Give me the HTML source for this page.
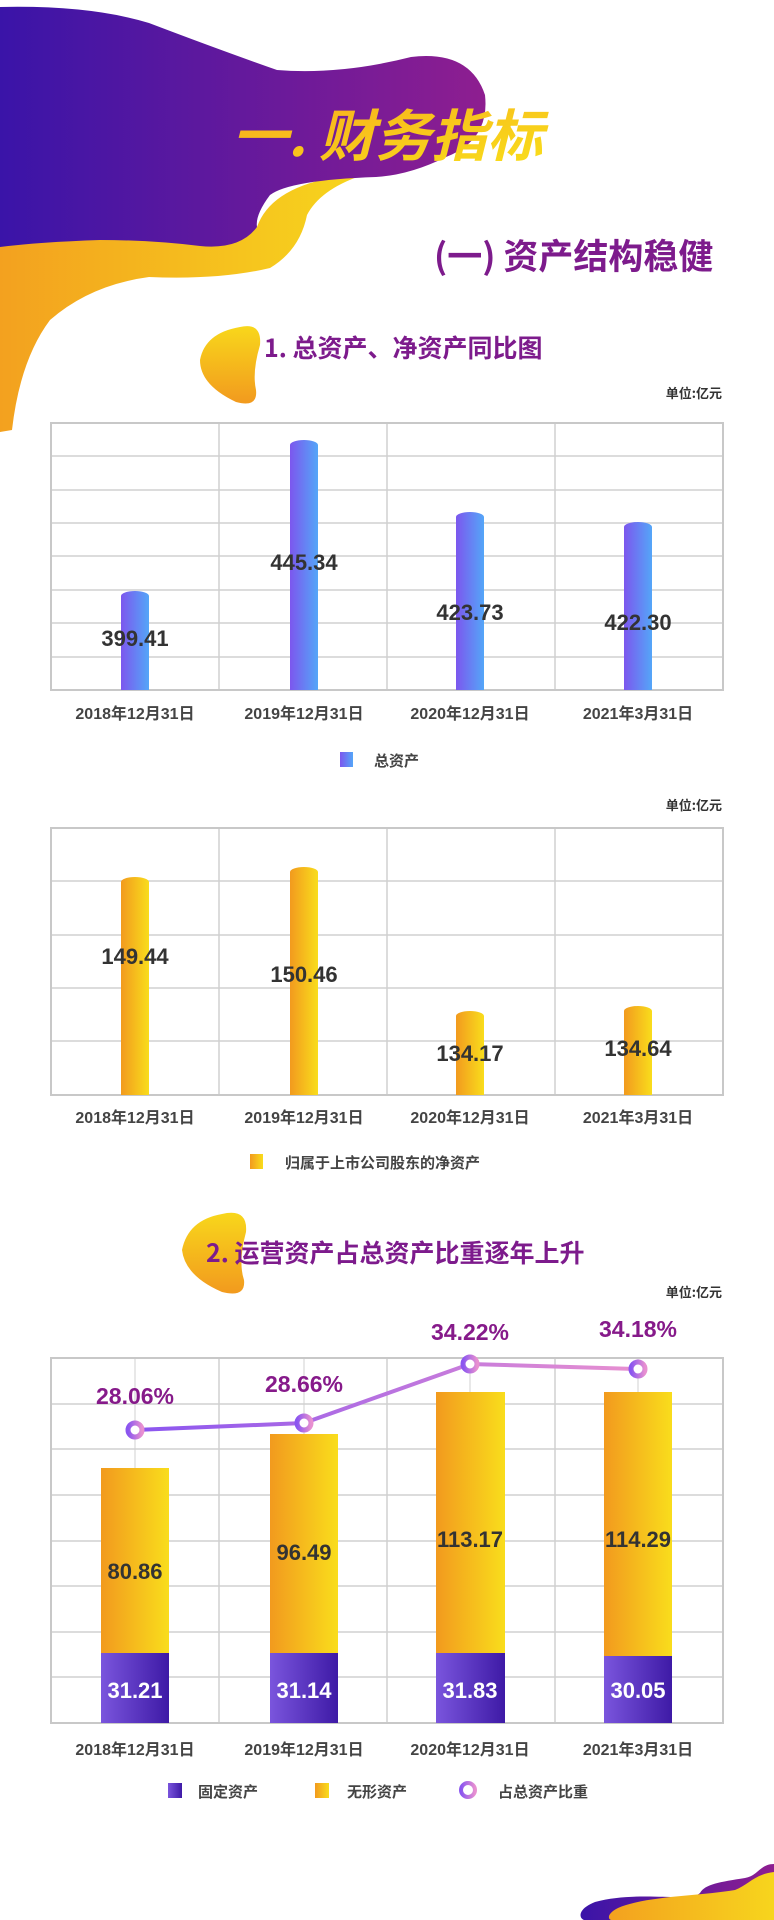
<!DOCTYPE html>
<html><head><meta charset="utf-8"><style>
html,body{margin:0;padding:0;background:#fff;}
svg{display:block;}
text{font-family:"Liberation Sans","Noto Sans CJK SC",sans-serif;}
.cj{font-family:"Noto Sans CJK SC","WenQuanYi Zen Hei",sans-serif;font-weight:bold;}
.num{font-family:"Liberation Sans Narrow","Liberation Sans",sans-serif;font-weight:bold;}
</style></head><body>
<svg width="774" height="1920" viewBox="0 0 774 1920" xmlns="http://www.w3.org/2000/svg">
<defs>
<linearGradient id="gp" x1="0" y1="0" x2="1" y2="0"><stop offset="0" stop-color="#3a14a8"/><stop offset="1" stop-color="#8e1e90"/></linearGradient>
<linearGradient id="gy" x1="0" y1="0" x2="1" y2="0"><stop offset="0" stop-color="#f3a11f"/><stop offset="1" stop-color="#f7d51d"/></linearGradient>
<linearGradient id="gyv" x1="0" y1="1" x2="0" y2="0"><stop offset="0" stop-color="#f29a1e"/><stop offset="1" stop-color="#f8d71b"/></linearGradient>
<linearGradient id="gt" x1="0" y1="0" x2="1" y2="1"><stop offset="0" stop-color="#f7a81e"/><stop offset="1" stop-color="#f9e11a"/></linearGradient>
<linearGradient id="gb" x1="0" y1="0" x2="1" y2="0"><stop offset="0" stop-color="#7c57ee"/><stop offset="1" stop-color="#54a6f8"/></linearGradient>
<linearGradient id="go" x1="0" y1="0" x2="1" y2="0"><stop offset="0" stop-color="#f29a1e"/><stop offset="1" stop-color="#f9dd1c"/></linearGradient>
<linearGradient id="gpu" x1="0" y1="0" x2="1" y2="0"><stop offset="0" stop-color="#7a55dd"/><stop offset="1" stop-color="#3e1aa6"/></linearGradient>
<linearGradient id="gl" x1="0" y1="0" x2="1" y2="0"><stop offset="0" stop-color="#8a55f0"/><stop offset="1" stop-color="#e890d0"/></linearGradient>
</defs>

<!-- top blobs -->
<path d="M0 240 L149 240 Q230 250 257 227 Q270 190 330 178 L360 176 Q320 190 307 215 Q300 250 270 268 Q220 280 149 277 Q90 285 50 320 Q20 360 12 430 L0 432 Z" fill="url(#gy)"/>
<path d="M0 7 Q90 5 149 23 Q220 50 277 70 Q340 75 411 57 Q470 50 485 95 Q490 140 446 157 Q410 175 376 177 Q290 180 270 195 Q255 215 257 227 Q240 250 200 246 Q150 240 100 240 Q40 242 0 247 Z" fill="url(#gp)"/>
<text x="232" y="156" font-size="56" font-weight="bold" font-style="italic" fill="url(#gt)" class="cj">一. 财务指标</text>
<text x="434" y="269" font-size="35" fill="#7d1b8c" class="cj">(一) 资产结构稳健</text>

<!-- section 1 title -->
<path d="M240 327 Q262 322 260 345 Q252 372 256 390 Q258 408 236 402 Q200 385 200 360 Q205 333 240 327 Z" fill="url(#gyv)"/>
<text x="264" y="357" font-size="25" fill="#7d1b8c" class="cj">1. 总资产、净资产同比图</text>
<text x="722" y="398" font-size="13" fill="#333" class="cj" text-anchor="end">单位:亿元</text>

<!-- chart 1 -->
<g stroke="#d0d0d0" stroke-width="1.5" fill="none">
<path d="M51 456H723M51 490H723M51 523H723M51 556H723M51 590H723M51 623H723M51 657H723"/>
<path d="M219 423V690M387 423V690M555 423V690"/>
<rect x="51" y="423" width="672" height="267" stroke="#c8c8c8" stroke-width="2"/>
</g>
<g fill="url(#gb)">
<path d="M121 596 A14 5 0 0 1 149 596 V690 H121 Z"/>
<path d="M290 445 A14 5 0 0 1 318 445 V690 H290 Z"/>
<path d="M456 517 A14 5 0 0 1 484 517 V690 H456 Z"/>
<path d="M624 527 A14 5 0 0 1 652 527 V690 H624 Z"/>
</g>
<g font-size="22" fill="#333" class="num" text-anchor="middle">
<text x="135" y="646">399.41</text><text x="304" y="570">445.34</text><text x="470" y="620">423.73</text><text x="638" y="630">422.30</text>
</g>
<g font-size="16" fill="#444" class="cj" text-anchor="middle">
<text x="135" y="719">2018年12月31日</text><text x="304" y="719">2019年12月31日</text><text x="470" y="719">2020年12月31日</text><text x="638" y="719">2021年3月31日</text>
</g>
<rect x="340" y="752" width="13" height="15" fill="url(#gb)"/>
<text x="374" y="766" font-size="15" fill="#444" class="cj">总资产</text>

<!-- chart 2 -->
<text x="722" y="810" font-size="13" fill="#333" class="cj" text-anchor="end">单位:亿元</text>
<g stroke="#d0d0d0" stroke-width="1.5" fill="none">
<path d="M51 881H723M51 935H723M51 988H723M51 1041H723"/>
<path d="M219 828V1095M387 828V1095M555 828V1095"/>
<rect x="51" y="828" width="672" height="267" stroke="#c8c8c8" stroke-width="2"/>
</g>
<g fill="url(#go)">
<path d="M121 882 A14 5 0 0 1 149 882 V1095 H121 Z"/>
<path d="M290 872 A14 5 0 0 1 318 872 V1095 H290 Z"/>
<path d="M456 1016 A14 5 0 0 1 484 1016 V1095 H456 Z"/>
<path d="M624 1011 A14 5 0 0 1 652 1011 V1095 H624 Z"/>
</g>
<g font-size="22" fill="#333" class="num" text-anchor="middle">
<text x="135" y="964">149.44</text><text x="304" y="982">150.46</text><text x="470" y="1061">134.17</text><text x="638" y="1056">134.64</text>
</g>
<g font-size="16" fill="#444" class="cj" text-anchor="middle">
<text x="135" y="1123">2018年12月31日</text><text x="304" y="1123">2019年12月31日</text><text x="470" y="1123">2020年12月31日</text><text x="638" y="1123">2021年3月31日</text>
</g>
<rect x="250" y="1154" width="13" height="15" fill="url(#go)"/>
<text x="285" y="1168" font-size="15" fill="#444" class="cj">归属于上市公司股东的净资产</text>

<!-- section 2 title -->
<path d="M222 1214 Q248 1208 246 1232 Q238 1262 244 1280 Q246 1298 222 1292 Q185 1276 182 1250 Q188 1220 222 1214 Z" fill="url(#gyv)"/>
<text x="206" y="1262" font-size="25" fill="#7d1b8c" class="cj">2. 运营资产占总资产比重逐年上升</text>
<text x="722" y="1297" font-size="13" fill="#333" class="cj" text-anchor="end">单位:亿元</text>

<!-- chart 3 -->
<g stroke="#d0d0d0" stroke-width="1.5" fill="none">
<path d="M51 1404H723M51 1449H723M51 1495H723M51 1541H723M51 1586H723M51 1632H723M51 1677H723"/>
<path d="M219 1358V1723M387 1358V1723M555 1358V1723"/>
<path d="M135 1358V1723M304 1358V1723M470 1358V1723M638 1358V1723" stroke-width="1"/>
<rect x="51" y="1358" width="672" height="365" stroke="#c8c8c8" stroke-width="2"/>
</g>
<g fill="url(#go)">
<rect x="101" y="1468" width="68" height="186"/>
<rect x="270" y="1434" width="68" height="220"/>
<rect x="436" y="1392" width="69" height="262"/>
<rect x="604" y="1392" width="68" height="264"/>
</g>
<g fill="url(#gpu)">
<rect x="101" y="1653" width="68" height="70"/>
<rect x="270" y="1653" width="68" height="70"/>
<rect x="436" y="1653" width="69" height="70"/>
<rect x="604" y="1656" width="68" height="67"/>
</g>
<polyline points="135,1430 304,1423 470,1364 638,1369" fill="none" stroke="url(#gl)" stroke-width="4"/>
<g fill="#fff" stroke="url(#gl)" stroke-width="5">
<circle cx="135" cy="1430" r="7"/><circle cx="304" cy="1423" r="7"/><circle cx="470" cy="1364" r="7"/><circle cx="638" cy="1369" r="7"/>
</g>
<g font-size="23" fill="#861a8a" class="num" text-anchor="middle">
<text x="135" y="1404">28.06%</text><text x="304" y="1392">28.66%</text><text x="470" y="1340">34.22%</text><text x="638" y="1337">34.18%</text>
</g>
<g font-size="22" fill="#333" class="num" text-anchor="middle">
<text x="135" y="1579">80.86</text><text x="304" y="1560">96.49</text><text x="470" y="1547">113.17</text><text x="638" y="1547">114.29</text>
</g>
<g font-size="22" fill="#fff" class="num" text-anchor="middle">
<text x="135" y="1698">31.21</text><text x="304" y="1698">31.14</text><text x="470" y="1698">31.83</text><text x="638" y="1698">30.05</text>
</g>
<g font-size="16" fill="#444" class="cj" text-anchor="middle">
<text x="135" y="1755">2018年12月31日</text><text x="304" y="1755">2019年12月31日</text><text x="470" y="1755">2020年12月31日</text><text x="638" y="1755">2021年3月31日</text>
</g>
<rect x="168" y="1783" width="14" height="15" fill="url(#gpu)"/>
<text x="198" y="1797" font-size="15" fill="#444" class="cj">固定资产</text>
<rect x="315" y="1783" width="14" height="15" fill="url(#go)"/>
<text x="347" y="1797" font-size="15" fill="#444" class="cj">无形资产</text>
<line x1="449" y1="1790" x2="488" y2="1790" stroke="url(#gl)" stroke-width="4"/>
<circle cx="468" cy="1790" r="7" fill="#fff" stroke="url(#gl)" stroke-width="4"/>
<text x="498" y="1797" font-size="15" fill="#444" class="cj">占总资产比重</text>

<!-- bottom-right blob -->
<path d="M774 1864 C760 1864 758 1876 745 1878 C720 1882 705 1884 700 1893 C690 1903 640 1890 595 1902 C575 1910 580 1920 585 1920 L774 1920Z" fill="url(#gp)"/>
<path d="M774 1872 C755 1874 748 1885 735 1890 C700 1896 645 1896 618 1908 C606 1914 608 1920 612 1920 L774 1920Z" fill="url(#gy)"/>
</svg>
</body></html>
